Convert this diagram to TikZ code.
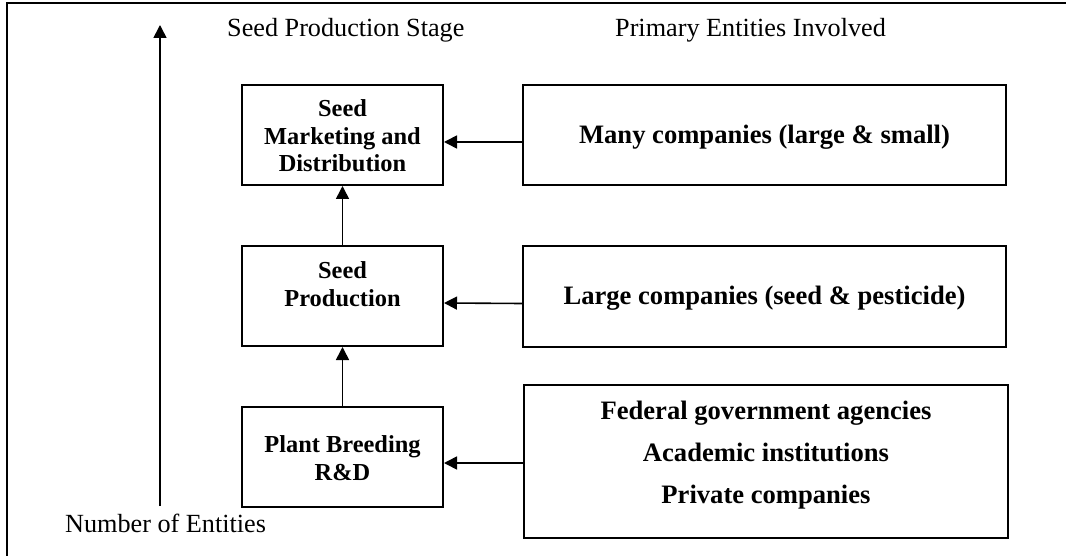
\documentclass[tikz,border=0pt]{standalone}
\usepackage{fontspec}
\setmainfont{Liberation Serif}
\usetikzlibrary{arrows.meta}
\begin{document}
\begin{tikzpicture}[x=1pt,y=-1pt,
  box/.style={draw, line width=2pt, inner sep=0pt, anchor=north west},
  stagebox/.style={box, minimum width=201pt, minimum height=100pt},
  entitybox/.style={box, minimum width=483pt},
  stagetext/.style={font=\bfseries\fontsize{24.4}{27.5}\selectfont, align=center, inner sep=0pt},
  entitytext/.style={font=\bfseries\fontsize{26.6}{42}\selectfont, align=center, inner sep=0pt},
  axislabel/.style={font=\fontsize{26.2}{30}\selectfont, inner sep=0pt, anchor=base west},
  link/.style={line width=1.6pt, -{Triangle[length=13pt,width=13pt]}}
]
\useasboundingbox (0,0) rectangle (1066,556);

% frame
\draw[line width=2.8pt] (7,570) -- (7,3) -- (1080,3);

% column headings and axis label
\node[axislabel] (stagehead) at (227,37) {Seed Production Stage};
\node[axislabel] (entityhead) at (615,37) {Primary Entities Involved};
\node[axislabel] (axisname) at (65,532) {Number of Entities};

% vertical axis
\coordinate (axisbase) at (160,506);
\coordinate (axistip) at (160,25);
\draw[link] (axisbase) -- (axistip);

% stage boxes
\node[stagebox] (mkt) at (241,84) {};
\node[stagebox] (prod) at (241,245) {};
\node[stagebox] (breed) at (241,406) {};
\node[stagetext] (mkttext) at ([yshift=-1pt]mkt.center) {Seed\\Marketing and\\Distribution};
\node[stagetext] (prodtext) at ([yshift=12pt]prod.center) {Seed\\Production};
\node[stagetext] (breedtext) at ([yshift=-1pt]breed.center) {Plant Breeding\\R\&D};

% entity boxes
\node[entitybox, minimum height=100pt] (many) at (522,84) {};
\node[entitybox, minimum height=101pt] (large) at (522,245) {};
\node[entitybox, minimum width=484pt, minimum height=153pt] (fed) at (523,384) {};
\node[entitytext] (manytext) at ([yshift=-2pt]many.center) {Many companies (large \& small)};
\node[entitytext] (largetext) at ([yshift=-2pt]large.center) {Large companies (seed \& pesticide)};
\node[entitytext] (fedtext) at ([yshift=6pt]fed.center) {Federal government agencies\\Academic institutions\\Private companies};

% connectors
\draw[link] (prod.north) -- (mkt.south);
\draw[link] (breed.north) -- (prod.south);
\draw[link] ([yshift=-7pt]many.west) -- ([yshift=-7pt]mkt.east);
\draw[link] ([yshift=-7pt]large.west) -- ([yshift=-7pt]prod.east);
\draw[link] ([yshift=-6pt]fed.west |- breed.center) -- ([yshift=-6pt]breed.east);
\end{tikzpicture}
\end{document}
